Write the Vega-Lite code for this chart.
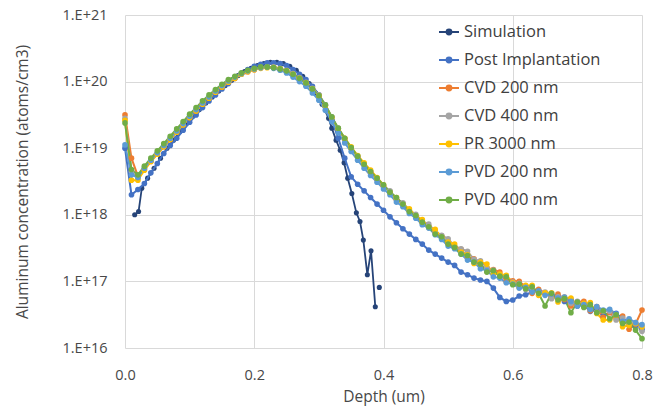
{
"$schema":"https://vega.github.io/schema/vega-lite/v6.json",
"width":517,"height":333,"autosize":"none",
"padding":{"left":125,"top":15,"right":23,"bottom":62},
"background":"white",
"config":{"font":"Open Sans","view":{"stroke":null},
 "axis":{"grid":true,"gridColor":"#d9d9d9","gridWidth":1,"domain":false,"ticks":false,"labelFlush":false,"labelFontSize":14.5,"titleFontSize":15.5,"labelColor":"#484848","titleColor":"#484848","titleFontWeight":"normal","labelFont":"Open Sans","titleFont":"Open Sans"}},
"datasets":{
"sim":[
{"x":0.015,"y":1.00e18},{"x":0.021,"y":1.12e18},{"x":0.026,"y":2.51e18},{"x":0.035,"y":3.55e18},{"x":0.045,"y":5.01e18},{"x":0.055,"y":7.08e18},{"x":0.065,"y":1.00e19},{"x":0.075,"y":1.32e19},{"x":0.085,"y":1.78e19},{"x":0.095,"y":2.34e19},{"x":0.105,"y":3.02e19},{"x":0.115,"y":3.80e19},{"x":0.125,"y":4.79e19},{"x":0.135,"y":5.89e19},{"x":0.145,"y":7.24e19},{"x":0.155,"y":8.71e19},{"x":0.165,"y":1.05e20},{"x":0.175,"y":1.23e20},{"x":0.185,"y":1.41e20},{"x":0.195,"y":1.58e20},{"x":0.205,"y":1.74e20},{"x":0.215,"y":1.86e20},{"x":0.225,"y":1.95e20},{"x":0.235,"y":1.95e20},{"x":0.245,"y":1.86e20},{"x":0.255,"y":1.70e20},{"x":0.265,"y":1.48e20},{"x":0.275,"y":1.20e20},{"x":0.285,"y":9.33e19},{"x":0.295,"y":6.76e19},{"x":0.305,"y":4.57e19},{"x":0.315,"y":2.82e19},{"x":0.320,"y":2.00e19},{"x":0.3266,"y":1.32e19},{"x":0.333,"y":9.33e18},{"x":0.339,"y":6.03e18},{"x":0.3446,"y":3.55e18},{"x":0.351,"y":2.09e18},{"x":0.358,"y":1.07e18},{"x":0.3636,"y":7.94e17},{"x":0.3688,"y":4.17e17},{"x":0.375,"y":1.26e17},{"x":0.3807,"y":2.88e17},{"x":0.3873,"y":4.17e16},{"x":0.390,"y":null},{"x":0.3935,"y":8.13e16}
],
"sims":[
{"x":0.00,"Post Implantation":1.00e19,"CVD 200 nm":3.16e19,"CVD 400 nm":2.82e19,"PR 3000 nm":2.63e19,"PVD 200 nm":1.12e19,"PVD 400 nm":2.40e19},
{"x":0.01,"Post Implantation":2.00e18,"CVD 200 nm":7.08e18,"CVD 400 nm":4.47e18,"PR 3000 nm":3.31e18,"PVD 200 nm":3.98e18,"PVD 400 nm":4.79e18},
{"x":0.02,"Post Implantation":2.40e18,"CVD 200 nm":3.80e18,"CVD 400 nm":3.55e18,"PR 3000 nm":3.31e18,"PVD 200 nm":3.63e18,"PVD 400 nm":3.98e18},
{"x":0.03,"Post Implantation":2.95e18,"CVD 200 nm":4.79e18,"CVD 400 nm":4.90e18,"PR 3000 nm":4.68e18,"PVD 200 nm":5.01e18,"PVD 400 nm":5.37e18},
{"x":0.04,"Post Implantation":4.27e18,"CVD 200 nm":6.31e18,"CVD 400 nm":6.46e18,"PR 3000 nm":6.31e18,"PVD 200 nm":6.61e18,"PVD 400 nm":7.08e18},
{"x":0.05,"Post Implantation":5.89e18,"CVD 200 nm":8.13e18,"CVD 400 nm":8.32e18,"PR 3000 nm":8.13e18,"PVD 200 nm":8.51e18,"PVD 400 nm":9.12e18},
{"x":0.06,"Post Implantation":8.32e18,"CVD 200 nm":1.05e19,"CVD 400 nm":1.07e19,"PR 3000 nm":1.05e19,"PVD 200 nm":1.10e19,"PVD 400 nm":1.17e19},
{"x":0.07,"Post Implantation":1.10e19,"CVD 200 nm":1.35e19,"CVD 400 nm":1.38e19,"PR 3000 nm":1.35e19,"PVD 200 nm":1.41e19,"PVD 400 nm":1.51e19},
{"x":0.08,"Post Implantation":1.41e19,"CVD 200 nm":1.74e19,"CVD 400 nm":1.78e19,"PR 3000 nm":1.74e19,"PVD 200 nm":1.82e19,"PVD 400 nm":1.95e19},
{"x":0.09,"Post Implantation":1.86e19,"CVD 200 nm":2.24e19,"CVD 400 nm":2.29e19,"PR 3000 nm":2.24e19,"PVD 200 nm":2.34e19,"PVD 400 nm":2.51e19},
{"x":0.10,"Post Implantation":2.45e19,"CVD 200 nm":2.88e19,"CVD 400 nm":2.95e19,"PR 3000 nm":2.88e19,"PVD 200 nm":3.02e19,"PVD 400 nm":3.24e19},
{"x":0.11,"Post Implantation":3.16e19,"CVD 200 nm":3.63e19,"CVD 400 nm":3.72e19,"PR 3000 nm":3.63e19,"PVD 200 nm":3.80e19,"PVD 400 nm":4.07e19},
{"x":0.12,"Post Implantation":4.07e19,"CVD 200 nm":4.57e19,"CVD 400 nm":4.68e19,"PR 3000 nm":4.57e19,"PVD 200 nm":4.79e19,"PVD 400 nm":5.13e19},
{"x":0.13,"Post Implantation":5.13e19,"CVD 200 nm":5.62e19,"CVD 400 nm":5.75e19,"PR 3000 nm":5.62e19,"PVD 200 nm":5.89e19,"PVD 400 nm":6.31e19},
{"x":0.14,"Post Implantation":6.31e19,"CVD 200 nm":6.92e19,"CVD 400 nm":7.08e19,"PR 3000 nm":6.92e19,"PVD 200 nm":7.24e19,"PVD 400 nm":7.59e19},
{"x":0.15,"Post Implantation":7.76e19,"CVD 200 nm":8.32e19,"CVD 400 nm":8.51e19,"PR 3000 nm":8.32e19,"PVD 200 nm":8.71e19,"PVD 400 nm":9.12e19},
{"x":0.16,"Post Implantation":9.33e19,"CVD 200 nm":9.77e19,"CVD 400 nm":1.00e20,"PR 3000 nm":9.77e19,"PVD 200 nm":1.02e20,"PVD 400 nm":1.07e20},
{"x":0.17,"Post Implantation":1.12e20,"CVD 200 nm":1.12e20,"CVD 400 nm":1.15e20,"PR 3000 nm":1.12e20,"PVD 200 nm":1.17e20,"PVD 400 nm":1.20e20},
{"x":0.18,"Post Implantation":1.32e20,"CVD 200 nm":1.29e20,"CVD 400 nm":1.29e20,"PR 3000 nm":1.29e20,"PVD 200 nm":1.32e20,"PVD 400 nm":1.35e20},
{"x":0.19,"Post Implantation":1.51e20,"CVD 200 nm":1.41e20,"CVD 400 nm":1.45e20,"PR 3000 nm":1.41e20,"PVD 200 nm":1.45e20,"PVD 400 nm":1.48e20},
{"x":0.20,"Post Implantation":1.70e20,"CVD 200 nm":1.51e20,"CVD 400 nm":1.55e20,"PR 3000 nm":1.51e20,"PVD 200 nm":1.55e20,"PVD 400 nm":1.58e20},
{"x":0.21,"Post Implantation":1.82e20,"CVD 200 nm":1.62e20,"CVD 400 nm":1.62e20,"PR 3000 nm":1.58e20,"PVD 200 nm":1.62e20,"PVD 400 nm":1.66e20},
{"x":0.22,"Post Implantation":1.91e20,"CVD 200 nm":1.66e20,"CVD 400 nm":1.66e20,"PR 3000 nm":1.62e20,"PVD 200 nm":1.66e20,"PVD 400 nm":1.66e20},
{"x":0.23,"Post Implantation":1.91e20,"CVD 200 nm":1.62e20,"CVD 400 nm":1.66e20,"PR 3000 nm":1.62e20,"PVD 200 nm":1.58e20,"PVD 400 nm":1.62e20},
{"x":0.24,"Post Implantation":1.86e20,"CVD 200 nm":1.55e20,"CVD 400 nm":1.58e20,"PR 3000 nm":1.55e20,"PVD 200 nm":1.48e20,"PVD 400 nm":1.55e20},
{"x":0.25,"Post Implantation":1.74e20,"CVD 200 nm":1.45e20,"CVD 400 nm":1.48e20,"PR 3000 nm":1.45e20,"PVD 200 nm":1.35e20,"PVD 400 nm":1.45e20},
{"x":0.26,"Post Implantation":1.51e20,"CVD 200 nm":1.29e20,"CVD 400 nm":1.32e20,"PR 3000 nm":1.29e20,"PVD 200 nm":1.17e20,"PVD 400 nm":1.29e20},
{"x":0.27,"Post Implantation":1.29e20,"CVD 200 nm":1.12e20,"CVD 400 nm":1.15e20,"PR 3000 nm":1.12e20,"PVD 200 nm":1.00e20,"PVD 400 nm":1.12e20},
{"x":0.28,"Post Implantation":1.07e20,"CVD 200 nm":9.55e19,"CVD 400 nm":9.77e19,"PR 3000 nm":9.55e19,"PVD 200 nm":8.51e19,"PVD 400 nm":9.55e19},
{"x":0.29,"Post Implantation":8.51e19,"CVD 200 nm":7.76e19,"CVD 400 nm":7.94e19,"PR 3000 nm":7.76e19,"PVD 200 nm":6.76e19,"PVD 400 nm":7.76e19},
{"x":0.30,"Post Implantation":6.31e19,"CVD 200 nm":6.17e19,"CVD 400 nm":6.31e19,"PR 3000 nm":6.17e19,"PVD 200 nm":5.25e19,"PVD 400 nm":6.17e19},
{"x":0.31,"Post Implantation":4.47e19,"CVD 200 nm":4.37e19,"CVD 400 nm":4.47e19,"PR 3000 nm":4.37e19,"PVD 200 nm":3.72e19,"PVD 400 nm":4.47e19},
{"x":0.32,"Post Implantation":2.63e19,"CVD 200 nm":2.88e19,"CVD 400 nm":2.95e19,"PR 3000 nm":2.88e19,"PVD 200 nm":2.51e19,"PVD 400 nm":2.95e19},
{"x":0.33,"Post Implantation":1.41e19,"CVD 200 nm":1.95e19,"CVD 400 nm":2.00e19,"PR 3000 nm":1.95e19,"PVD 200 nm":1.70e19,"PVD 400 nm":2.00e19},
{"x":0.34,"Post Implantation":7.08e18,"CVD 200 nm":1.38e19,"CVD 400 nm":1.41e19,"PR 3000 nm":1.41e19,"PVD 200 nm":1.20e19,"PVD 400 nm":1.41e19},
{"x":0.35,"Post Implantation":3.72e18,"CVD 200 nm":1.00e19,"CVD 400 nm":1.02e19,"PR 3000 nm":1.05e19,"PVD 200 nm":8.91e18,"PVD 400 nm":1.02e19},
{"x":0.36,"Post Implantation":2.88e18,"CVD 200 nm":7.41e18,"CVD 400 nm":7.59e18,"PR 3000 nm":7.76e18,"PVD 200 nm":6.61e18,"PVD 400 nm":7.59e18},
{"x":0.37,"Post Implantation":2.29e18,"CVD 200 nm":5.62e18,"CVD 400 nm":5.75e18,"PR 3000 nm":6.03e18,"PVD 200 nm":5.01e18,"PVD 400 nm":5.75e18},
{"x":0.38,"Post Implantation":1.82e18,"CVD 200 nm":4.37e18,"CVD 400 nm":4.47e18,"PR 3000 nm":4.68e18,"PVD 200 nm":3.89e18,"PVD 400 nm":4.47e18},
{"x":0.39,"Post Implantation":1.45e18,"CVD 200 nm":3.39e18,"CVD 400 nm":3.47e18,"PR 3000 nm":3.63e18,"PVD 200 nm":3.09e18,"PVD 400 nm":3.55e18},
{"x":0.40,"Post Implantation":1.17e18,"CVD 200 nm":2.69e18,"CVD 400 nm":2.75e18,"PR 3000 nm":2.82e18,"PVD 200 nm":2.45e18,"PVD 400 nm":2.82e18},
{"x":0.41,"Post Implantation":9.33e17,"CVD 200 nm":2.24e18,"CVD 400 nm":2.29e18,"PR 3000 nm":2.14e18,"PVD 200 nm":2.00e18,"PVD 400 nm":2.19e18},
{"x":0.42,"Post Implantation":7.59e17,"CVD 200 nm":1.70e18,"CVD 400 nm":1.74e18,"PR 3000 nm":1.82e18,"PVD 200 nm":1.55e18,"PVD 400 nm":1.82e18},
{"x":0.43,"Post Implantation":6.17e17,"CVD 200 nm":1.48e18,"CVD 400 nm":1.51e18,"PR 3000 nm":1.41e18,"PVD 200 nm":1.32e18,"PVD 400 nm":1.45e18},
{"x":0.44,"Post Implantation":5.13e17,"CVD 200 nm":1.15e18,"CVD 400 nm":1.17e18,"PR 3000 nm":1.23e18,"PVD 200 nm":1.05e18,"PVD 400 nm":1.12e18},
{"x":0.45,"Post Implantation":4.27e17,"CVD 200 nm":9.55e17,"CVD 400 nm":1.02e18,"PR 3000 nm":9.55e17,"PVD 200 nm":8.91e17,"PVD 400 nm":9.77e17},
{"x":0.46,"Post Implantation":3.63e17,"CVD 200 nm":7.59e17,"CVD 400 nm":7.94e17,"PR 3000 nm":8.51e17,"PVD 200 nm":7.08e17,"PVD 400 nm":7.76e17},
{"x":0.47,"Post Implantation":2.95e17,"CVD 200 nm":6.76e17,"CVD 400 nm":7.24e17,"PR 3000 nm":6.46e17,"PVD 200 nm":6.31e17,"PVD 400 nm":6.61e17},
{"x":0.48,"Post Implantation":2.57e17,"CVD 200 nm":5.50e17,"CVD 400 nm":5.62e17,"PR 3000 nm":6.03e17,"PVD 200 nm":5.01e17,"PVD 400 nm":5.13e17},
{"x":0.49,"Post Implantation":2.24e17,"CVD 200 nm":4.79e17,"CVD 400 nm":4.90e17,"PR 3000 nm":4.57e17,"PVD 200 nm":4.27e17,"PVD 400 nm":4.68e17},
{"x":0.50,"Post Implantation":1.95e17,"CVD 200 nm":3.72e17,"CVD 400 nm":4.37e17,"PR 3000 nm":3.89e17,"PVD 200 nm":3.39e17,"PVD 400 nm":3.63e17},
{"x":0.51,"Post Implantation":1.74e17,"CVD 200 nm":3.31e17,"CVD 400 nm":3.39e17,"PR 3000 nm":3.63e17,"PVD 200 nm":3.09e17,"PVD 400 nm":3.24e17},
{"x":0.52,"Post Implantation":1.38e17,"CVD 200 nm":3.02e17,"CVD 400 nm":3.09e17,"PR 3000 nm":2.75e17,"PVD 200 nm":2.57e17,"PVD 400 nm":2.57e17},
{"x":0.53,"Post Implantation":1.26e17,"CVD 200 nm":2.29e17,"CVD 400 nm":2.82e17,"PR 3000 nm":2.51e17,"PVD 200 nm":2.09e17,"PVD 400 nm":2.45e17},
{"x":0.54,"Post Implantation":1.12e17,"CVD 200 nm":2.19e17,"CVD 400 nm":2.14e17,"PR 3000 nm":1.86e17,"PVD 200 nm":1.95e17,"PVD 400 nm":1.95e17},
{"x":0.55,"Post Implantation":1.05e17,"CVD 200 nm":1.82e17,"CVD 400 nm":2.04e17,"PR 3000 nm":1.95e17,"PVD 200 nm":1.55e17,"PVD 400 nm":1.82e17},
{"x":0.56,"Post Implantation":1.00e17,"CVD 200 nm":1.41e17,"CVD 400 nm":1.58e17,"PR 3000 nm":1.82e17,"PVD 200 nm":1.45e17,"PVD 400 nm":1.38e17},
{"x":0.57,"Post Implantation":7.94e16,"CVD 200 nm":1.51e17,"CVD 400 nm":1.48e17,"PR 3000 nm":1.29e17,"PVD 200 nm":1.17e17,"PVD 400 nm":1.45e17},
{"x":0.58,"Post Implantation":5.75e16,"CVD 200 nm":1.38e17,"CVD 400 nm":1.15e17,"PR 3000 nm":1.29e17,"PVD 200 nm":1.12e17,"PVD 400 nm":1.20e17},
{"x":0.59,"Post Implantation":5.01e16,"CVD 200 nm":9.77e16,"CVD 400 nm":1.20e17,"PR 3000 nm":1.23e17,"PVD 200 nm":9.55e16,"PVD 400 nm":1.17e17},
{"x":0.60,"Post Implantation":5.25e16,"CVD 200 nm":1.02e17,"CVD 400 nm":9.77e16,"PR 3000 nm":9.55e16,"PVD 200 nm":9.12e16,"PVD 400 nm":8.91e16},
{"x":0.61,"Post Implantation":6.03e16,"CVD 200 nm":1.00e17,"CVD 400 nm":9.33e16,"PR 3000 nm":8.13e16,"PVD 200 nm":7.94e16,"PVD 400 nm":9.12e16},
{"x":0.62,"Post Implantation":6.31e16,"CVD 200 nm":8.32e16,"CVD 400 nm":7.59e16,"PR 3000 nm":8.71e16,"PVD 200 nm":8.13e16,"PVD 400 nm":7.76e16},
{"x":0.63,"Post Implantation":6.92e16,"CVD 200 nm":6.61e16,"CVD 400 nm":8.13e16,"PR 3000 nm":8.71e16,"PVD 200 nm":6.92e16,"PVD 400 nm":8.32e16},
{"x":0.64,"Post Implantation":7.24e16,"CVD 200 nm":7.59e16,"CVD 400 nm":6.92e16,"PR 3000 nm":6.17e16,"PVD 200 nm":7.24e16,"PVD 400 nm":6.61e16},
{"x":0.65,"Post Implantation":6.61e16,"CVD 200 nm":6.76e16,"CVD 400 nm":6.92e16,"PR 3000 nm":6.76e16,"PVD 200 nm":6.17e16,"PVD 400 nm":4.27e16},
{"x":0.66,"Post Implantation":6.31e16,"CVD 200 nm":5.62e16,"CVD 400 nm":5.50e16,"PR 3000 nm":6.76e16,"PVD 200 nm":6.46e16,"PVD 400 nm":6.61e16},
{"x":0.67,"Post Implantation":6.03e16,"CVD 200 nm":6.46e16,"CVD 400 nm":5.89e16,"PR 3000 nm":4.90e16,"PVD 200 nm":5.62e16,"PVD 400 nm":5.25e16},
{"x":0.68,"Post Implantation":5.01e16,"CVD 200 nm":5.37e16,"CVD 400 nm":5.89e16,"PR 3000 nm":5.62e16,"PVD 200 nm":5.75e16,"PVD 400 nm":5.50e16},
{"x":0.69,"Post Implantation":5.37e16,"CVD 200 nm":4.27e16,"CVD 400 nm":4.68e16,"PR 3000 nm":5.62e16,"PVD 200 nm":5.01e16,"PVD 400 nm":3.39e16},
{"x":0.70,"Post Implantation":4.27e16,"CVD 200 nm":4.90e16,"CVD 400 nm":5.01e16,"PR 3000 nm":4.37e16,"PVD 200 nm":4.27e16,"PVD 400 nm":4.90e16},
{"x":0.71,"Post Implantation":4.47e16,"CVD 200 nm":5.01e16,"CVD 400 nm":4.27e16,"PR 3000 nm":4.68e16,"PVD 200 nm":4.47e16,"PVD 400 nm":4.07e16},
{"x":0.72,"Post Implantation":3.55e16,"CVD 200 nm":3.63e16,"CVD 400 nm":4.57e16,"PR 3000 nm":4.79e16,"PVD 200 nm":3.80e16,"PVD 400 nm":4.47e16},
{"x":0.73,"Post Implantation":3.72e16,"CVD 200 nm":4.17e16,"CVD 400 nm":3.47e16,"PR 3000 nm":3.31e16,"PVD 200 nm":4.17e16,"PVD 400 nm":3.39e16},
{"x":0.74,"Post Implantation":3.02e16,"CVD 200 nm":2.88e16,"CVD 400 nm":3.63e16,"PR 3000 nm":2.63e16,"PVD 200 nm":3.72e16,"PVD 400 nm":3.63e16},
{"x":0.75,"Post Implantation":3.47e16,"CVD 200 nm":3.39e16,"CVD 400 nm":3.55e16,"PR 3000 nm":2.63e16,"PVD 200 nm":3.80e16,"PVD 400 nm":2.75e16},
{"x":0.76,"Post Implantation":3.31e16,"CVD 200 nm":2.75e16,"CVD 400 nm":2.63e16,"PR 3000 nm":3.16e16,"PVD 200 nm":3.24e16,"PVD 400 nm":3.16e16},
{"x":0.77,"Post Implantation":2.75e16,"CVD 200 nm":3.02e16,"CVD 400 nm":2.82e16,"PR 3000 nm":2.09e16,"PVD 200 nm":2.51e16,"PVD 400 nm":2.34e16},
{"x":0.78,"Post Implantation":2.24e16,"CVD 200 nm":1.91e16,"CVD 400 nm":2.29e16,"PR 3000 nm":2.19e16,"PVD 200 nm":2.75e16,"PVD 400 nm":2.45e16},
{"x":0.79,"Post Implantation":2.19e16,"CVD 200 nm":2.29e16,"CVD 400 nm":2.40e16,"PR 3000 nm":2.34e16,"PVD 200 nm":2.40e16,"PVD 400 nm":1.86e16},
{"x":0.80,"Post Implantation":1.91e16,"CVD 200 nm":3.72e16,"CVD 400 nm":1.78e16,"PR 3000 nm":2.09e16,"PVD 200 nm":2.24e16,"PVD 400 nm":1.38e16}
]},
"encoding":{
 "x":{"field":"x","type":"quantitative","scale":{"domain":[0,0.8],"nice":false},
  "axis":{"title":"Depth (um)","values":[0,0.2,0.4,0.6,0.8],"format":".1f","labelPadding":20,"titlePadding":8}},
 "y":{"field":"y","type":"quantitative","scale":{"type":"log","domain":[1e16,1e21],"nice":false},
  "axis":{"title":"Aluminum concentration (atoms/cm3)","values":[1e16,1e17,1e18,1e19,1e20,1e21],"labelExpr":"'1.E+' + round(log(datum.value)/LN10)","labelPadding":18,"titlePadding":31}}
},
"layer":[
 {"data":{"name":"sim"},
  "mark":{"type":"line","strokeWidth":1.8,"point":{"filled":true,"size":26}},
  "encoding":{"color":{"datum":"Simulation","type":"nominal"}}},
 {"data":{"name":"sims"},
  "transform":[{"fold":["Post Implantation","CVD 200 nm","CVD 400 nm","PR 3000 nm","PVD 200 nm","PVD 400 nm"],"as":["series","y"]}],
  "mark":{"type":"line","strokeWidth":2,"point":{"filled":true,"size":32}},
  "encoding":{"color":{"field":"series","type":"nominal",
   "scale":{"domain":["Simulation","Post Implantation","CVD 200 nm","CVD 400 nm","PR 3000 nm","PVD 200 nm","PVD 400 nm"],
            "range":["#264478","#4472C4","#ED7D31","#A5A5A5","#FFC000","#5B9BD5","#70AD47"]},
   "legend":{"title":null,"orient":"none","legendX":313,"legendY":6,"labelFontSize":16.5,"labelColor":"#404040","labelFont":"Open Sans",
     "symbolType":"M-1,0H1M-0.25,0A0.25,0.25,0,1,0,0.25,0A0.25,0.25,0,1,0,-0.25,0Z","symbolSize":400,"symbolStrokeWidth":1.8,
     "rowPadding":8,"labelOffset":4,"padding":0,
     "encode":{"symbols":{"update":{"fill":{"scale":"color","field":"value"},"stroke":{"scale":"color","field":"value"},"opacity":{"value":1}}}}}}}}
]
}
